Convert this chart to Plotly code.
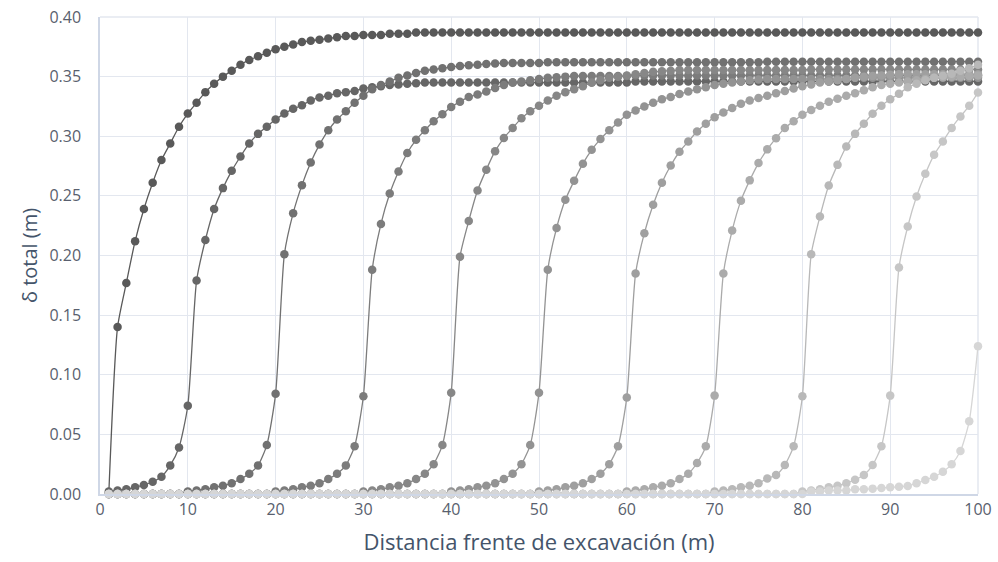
import plotly.graph_objects as go

# Distance from the excavation face (m), one reading per metre
distancia = list(range(1, 101))

# Total displacement (m) for each excavation stage, read at x = 1..100
etapa_01 = ([0.0, 0.140, 0.177, 0.212, 0.239, 0.261, 0.280, 0.294, 0.308, 0.319,
             0.328, 0.337, 0.344, 0.350, 0.355, 0.360, 0.364, 0.367, 0.370, 0.373,
             0.375, 0.377, 0.379, 0.380, 0.381, 0.382, 0.383, 0.384, 0.384, 0.385,
             0.385, 0.385, 0.386, 0.386, 0.386] + [0.387] * 65)

etapa_02 = ([0.002, 0.003, 0.004, 0.0056, 0.0076, 0.0103, 0.0145, 0.024, 0.039, 0.074,
             0.179, 0.213, 0.239, 0.2565, 0.271, 0.283, 0.294, 0.302, 0.308, 0.314,
             0.319, 0.323, 0.326, 0.330, 0.3325, 0.334, 0.336, 0.337, 0.338, 0.340,
             0.341, 0.342, 0.343, 0.3435, 0.344, 0.3445, 0.345]
            + [0.345] * 23 + [0.346] * 40)

etapa_03 = ([0.0] * 9
            + [0.002, 0.003, 0.004, 0.0056, 0.007, 0.009, 0.0126, 0.017, 0.024, 0.041, 0.084,
               0.201, 0.2355, 0.259, 0.278, 0.293, 0.305, 0.314, 0.321, 0.328, 0.334,
               0.3395, 0.343, 0.346, 0.349, 0.351, 0.353, 0.355, 0.356, 0.357, 0.358,
               0.359, 0.3595, 0.360, 0.3605, 0.361, 0.3615, 0.3615, 0.3615, 0.3615, 0.3615]
            + [0.362] * 25 + [0.3625] * 25)

etapa_04 = ([0.0] * 19
            + [0.002, 0.003, 0.004, 0.0056, 0.007, 0.009, 0.0125, 0.017, 0.024, 0.040, 0.082,
               0.188, 0.2265, 0.252, 0.2705, 0.286, 0.297, 0.305, 0.3125, 0.3185, 0.3245,
               0.329, 0.333, 0.335, 0.3375, 0.3405, 0.343, 0.345, 0.346, 0.347, 0.348,
               0.349, 0.3495, 0.350, 0.3505, 0.3505, 0.3505, 0.3505, 0.3505, 0.3505, 0.3505]
            + [0.351] * 40)

etapa_05 = ([0.0] * 29
            + [0.002, 0.003, 0.004, 0.0056, 0.007, 0.009, 0.0125, 0.017, 0.025, 0.041, 0.085,
               0.199, 0.229, 0.2545, 0.272, 0.2875, 0.2985, 0.307, 0.315, 0.321, 0.3255,
               0.330, 0.334, 0.337, 0.3395, 0.342, 0.345, 0.347, 0.349, 0.350, 0.351,
               0.352, 0.353, 0.354, 0.3545, 0.355]
            + [0.3555] * 15 + [0.356] * 20)

etapa_06 = ([0.0] * 39
            + [0.002, 0.003, 0.004, 0.0056, 0.007, 0.009, 0.0125, 0.017, 0.025, 0.041, 0.085,
               0.188, 0.223, 0.2467, 0.2626, 0.277, 0.2886, 0.2976, 0.305, 0.3115, 0.318,
               0.3216, 0.325, 0.328, 0.331, 0.333, 0.3355, 0.3375, 0.3395, 0.341, 0.343,
               0.344, 0.345, 0.346, 0.347, 0.3475]
            + [0.348] * 10 + [0.349] * 15)

etapa_07 = ([0.0] * 49
            + [0.002, 0.003, 0.004, 0.0056, 0.007, 0.009, 0.0125, 0.017, 0.025, 0.040, 0.081,
               0.185, 0.2187, 0.2425, 0.261, 0.2755, 0.287, 0.2956, 0.304, 0.3105, 0.316,
               0.320, 0.3236, 0.3272, 0.330, 0.332, 0.334, 0.336, 0.338, 0.340, 0.342,
               0.3435, 0.345, 0.346, 0.347, 0.348, 0.349, 0.350, 0.3505, 0.351, 0.3515]
            + [0.352] * 10)

etapa_08 = ([0.0] * 59
            + [0.002, 0.003, 0.004, 0.0056, 0.007, 0.009, 0.0125, 0.017, 0.026, 0.040, 0.0825,
               0.185, 0.2209, 0.246, 0.263, 0.2775, 0.289, 0.2984, 0.307, 0.3125, 0.318,
               0.322, 0.3255, 0.329, 0.3315, 0.334, 0.336, 0.3385, 0.341, 0.343, 0.344,
               0.345, 0.346, 0.347, 0.348, 0.349, 0.3495, 0.350, 0.350, 0.3505, 0.351])

etapa_09 = ([0.0] * 69
            + [0.002, 0.003, 0.004, 0.0056, 0.007, 0.009, 0.013, 0.016, 0.0243, 0.040, 0.082,
               0.201, 0.2327, 0.2587, 0.276, 0.2914, 0.302, 0.3105, 0.3188, 0.3255, 0.331,
               0.3356, 0.341, 0.344, 0.347, 0.349, 0.3507, 0.3524, 0.355, 0.357, 0.360])

etapa_10 = ([0.0] * 79
            + [0.002, 0.003, 0.004, 0.0056, 0.007, 0.009, 0.012, 0.016, 0.0243, 0.040, 0.0825,
               0.190, 0.2243, 0.2495, 0.2685, 0.2844, 0.2956, 0.307, 0.3166, 0.3255, 0.3367])

etapa_11 = ([0.0] * 80
            + [0.002, 0.002, 0.003, 0.003, 0.003, 0.004, 0.004, 0.0045, 0.005, 0.0056,
               0.006, 0.0067, 0.009, 0.0117, 0.0145, 0.0187, 0.0249, 0.036, 0.061, 0.124])

etapas = [etapa_01, etapa_02, etapa_03, etapa_04, etapa_05, etapa_06,
          etapa_07, etapa_08, etapa_09, etapa_10, etapa_11]

# Monochrome ramp, dark for the first stage through light for the last
grises = ["#595959", "#666666", "#717171", "#7c7c7c", "#878787", "#939393",
          "#9f9f9f", "#ababab", "#b8b8b8", "#c6c6c6", "#d6d6d6"]

x_ticks = [0, 10, 20, 30, 40, 50, 60, 70, 80, 90, 100]
y_ticks = [0.00, 0.05, 0.10, 0.15, 0.20, 0.25, 0.30, 0.35, 0.40]

fig = go.Figure()
for i, (serie, color) in enumerate(zip(etapas, grises)):
    fig.add_trace(go.Scatter(
        x=distancia, y=serie, mode="lines+markers", name=f"Etapa {i + 1}",
        line=dict(color=color, width=1.3, shape="spline", smoothing=0.6),
        marker=dict(color=color, size=8.5, line=dict(width=0)),
        showlegend=False, cliponaxis=False,
    ))

texto = "#44546a"
rejilla = "#e3e7ef"
fig.update_layout(
    width=998, height=562,
    margin=dict(l=100, r=20, t=17, b=68, autoexpand=False),
    paper_bgcolor="white", plot_bgcolor="white",
    font=dict(family="Open Sans, sans-serif", color=texto),
    xaxis=dict(
        range=[0, 100], tickvals=x_ticks, ticktext=[str(v) for v in x_ticks],
        automargin=False,
        showgrid=True, gridcolor=rejilla, gridwidth=1,
        showline=True, linecolor="#cfd7e6", linewidth=1.5, mirror=False,
        zeroline=False, ticks="", tickfont=dict(size=16, color="#595f6e"),
        title=dict(text="Distancia frente de excavación (m)",
                   font=dict(size=22, color=texto), standoff=16),
    ),
    yaxis=dict(
        range=[0, 0.40], tickvals=y_ticks, tickformat=".2f",
        automargin=False,
        showgrid=True, gridcolor=rejilla, gridwidth=1,
        showline=True, linecolor="#cfd7e6", linewidth=1.5,
        zeroline=False, ticks="", ticklabelstandoff=14,
        tickfont=dict(size=16, color="#595f6e"),
        title=dict(text="δ total (m)", font=dict(size=20, color=texto), standoff=6),
    ),
)
# Frame edges at the top and right, drawn in the grid colour
fig.add_shape(type="line", xref="paper", yref="paper", x0=0, x1=1, y0=1, y1=1,
              line=dict(color=rejilla, width=1.5), layer="below")
fig.add_shape(type="line", xref="paper", yref="paper", x0=1, x1=1, y0=0, y1=1,
              line=dict(color=rejilla, width=1.5), layer="below")

fig.write_html("out.html")
